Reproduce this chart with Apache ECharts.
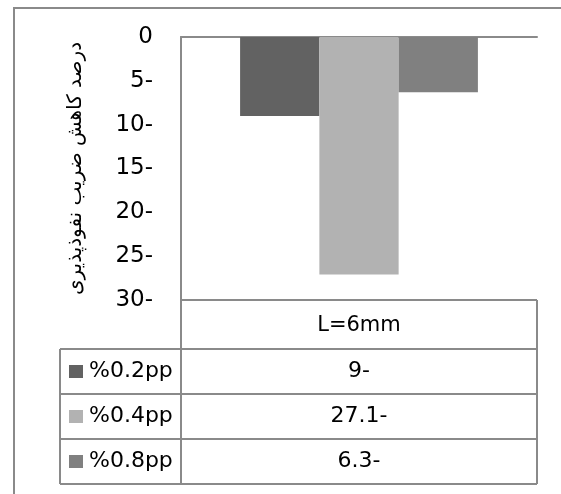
<!DOCTYPE html>
<html>
<head>
<meta charset="utf-8">
<script src="https://cdn.jsdelivr.net/npm/echarts@6/dist/echarts.min.js"></script>
<style>
  html, body { margin: 0; padding: 0; background: #fff; overflow: hidden; }
  #chart { width: 561px; height: 494px; }
</style>
</head>
<body>
<div id="chart"></div>
<script>
// Permeability-reduction data (percent) for a 6 mm length
const categories = ['L=6mm'];
const seriesNames = ['%0.2pp', '%0.4pp', '%0.8pp'];
const seriesValues = [-9, -27.1, -6.3];
const seriesColors = ['#626262', '#b2b2b2', '#808080'];
const axisTitle = 'درصد کاهش ضریب نفوذپذیری';
const yMin = -30, yMax = 0, yStep = 5;

// Numbers are shown with the minus sign trailing, as in the right-to-left layout
const rtlNum = v => (v === 0 ? '0' : Math.abs(v) + '-');

const LINE = '#8a8a8a';
const FONT = 'DejaVu Sans';

// Plot area and data-table layout
const plot = { left: 181, top: 37, right: 537, bottom: 300 };
const table = { left: 60, headerBottom: 349, rowH: 45 };

const chart = echarts.init(document.getElementById('chart'));

const hline = (x1, x2, y) => ({ type: 'line', shape: { x1, y1: y, x2, y2: y },
  style: { stroke: LINE, lineWidth: 2 }, silent: true });
const vline = (x, y1, y2) => ({ type: 'line', shape: { x1: x, y1, x2: x, y2 },
  style: { stroke: LINE, lineWidth: 2 }, silent: true });

const tableBottom = table.headerBottom + table.rowH * seriesNames.length;
const graphics = [];
// outer chart frame (runs off the right and bottom edges)
graphics.push(hline(13, 561, 8));
graphics.push(vline(14, 7, 494));
// header row of the data table
graphics.push(hline(plot.left, plot.right, plot.bottom));
graphics.push(vline(plot.left, plot.top, tableBottom));
graphics.push(vline(plot.right, plot.bottom, tableBottom));
graphics.push(vline(table.left, table.headerBottom, tableBottom));
graphics.push({ type: 'text', x: (plot.left + plot.right) / 2, y: (plot.bottom + table.headerBottom) / 2 + 1,
  style: { text: categories[0], fontSize: 21, fontFamily: FONT, fill: '#000', align: 'center', verticalAlign: 'middle' } });

seriesNames.forEach((name, i) => {
  const top = table.headerBottom + i * table.rowH;
  const bottom = top + table.rowH;
  graphics.push(hline(table.left, plot.right, top));
  if (i === seriesNames.length - 1) graphics.push(hline(table.left, plot.right, bottom));
  const cy = (top + bottom) / 2;
  graphics.push({ type: 'rect', shape: { x: 69, y: cy - 6.5, width: 14, height: 13 },
    style: { fill: seriesColors[i] } });
  graphics.push({ type: 'text', x: 89, y: cy,
    style: { text: name, fontSize: 22, fontFamily: FONT, fill: '#000', align: 'left', verticalAlign: 'middle' } });
  graphics.push({ type: 'text', x: (plot.left + plot.right) / 2, y: cy,
    style: { text: rtlNum(seriesValues[i]), fontSize: 22, fontFamily: FONT, fill: '#000', align: 'center', verticalAlign: 'middle' } });
});

chart.setOption({
  animation: false,
  backgroundColor: '#fff',
  grid: { left: plot.left, top: plot.top, right: 561 - plot.right, bottom: 494 - plot.bottom, containLabel: false },
  xAxis: {
    type: 'category',
    data: categories,
    position: 'top',
    axisLine: { show: true, lineStyle: { color: LINE, width: 2 } },
    axisTick: { show: false },
    axisLabel: { show: false },
    splitLine: { show: false }
  },
  yAxis: {
    type: 'value',
    min: yMin, max: yMax, interval: yStep,
    name: axisTitle,
    nameLocation: 'middle',
    nameRotate: 90,
    nameGap: 95,
    nameTextStyle: { fontFamily: FONT, fontSize: 20, color: '#000' },
    axisLine: { show: true, lineStyle: { color: LINE, width: 2 } },
    axisTick: { show: false },
    splitLine: { show: false },
    axisLabel: { formatter: rtlNum, fontFamily: FONT, fontSize: 23, color: '#000', margin: 28 }
  },
  series: seriesNames.map((name, i) => ({
    type: 'bar',
    name,
    data: [seriesValues[i]],
    barGap: '0%',
    barCategoryGap: '33.2%',
    itemStyle: { color: seriesColors[i] }
  })),
  graphic: graphics
});
</script>
</body>
</html>
